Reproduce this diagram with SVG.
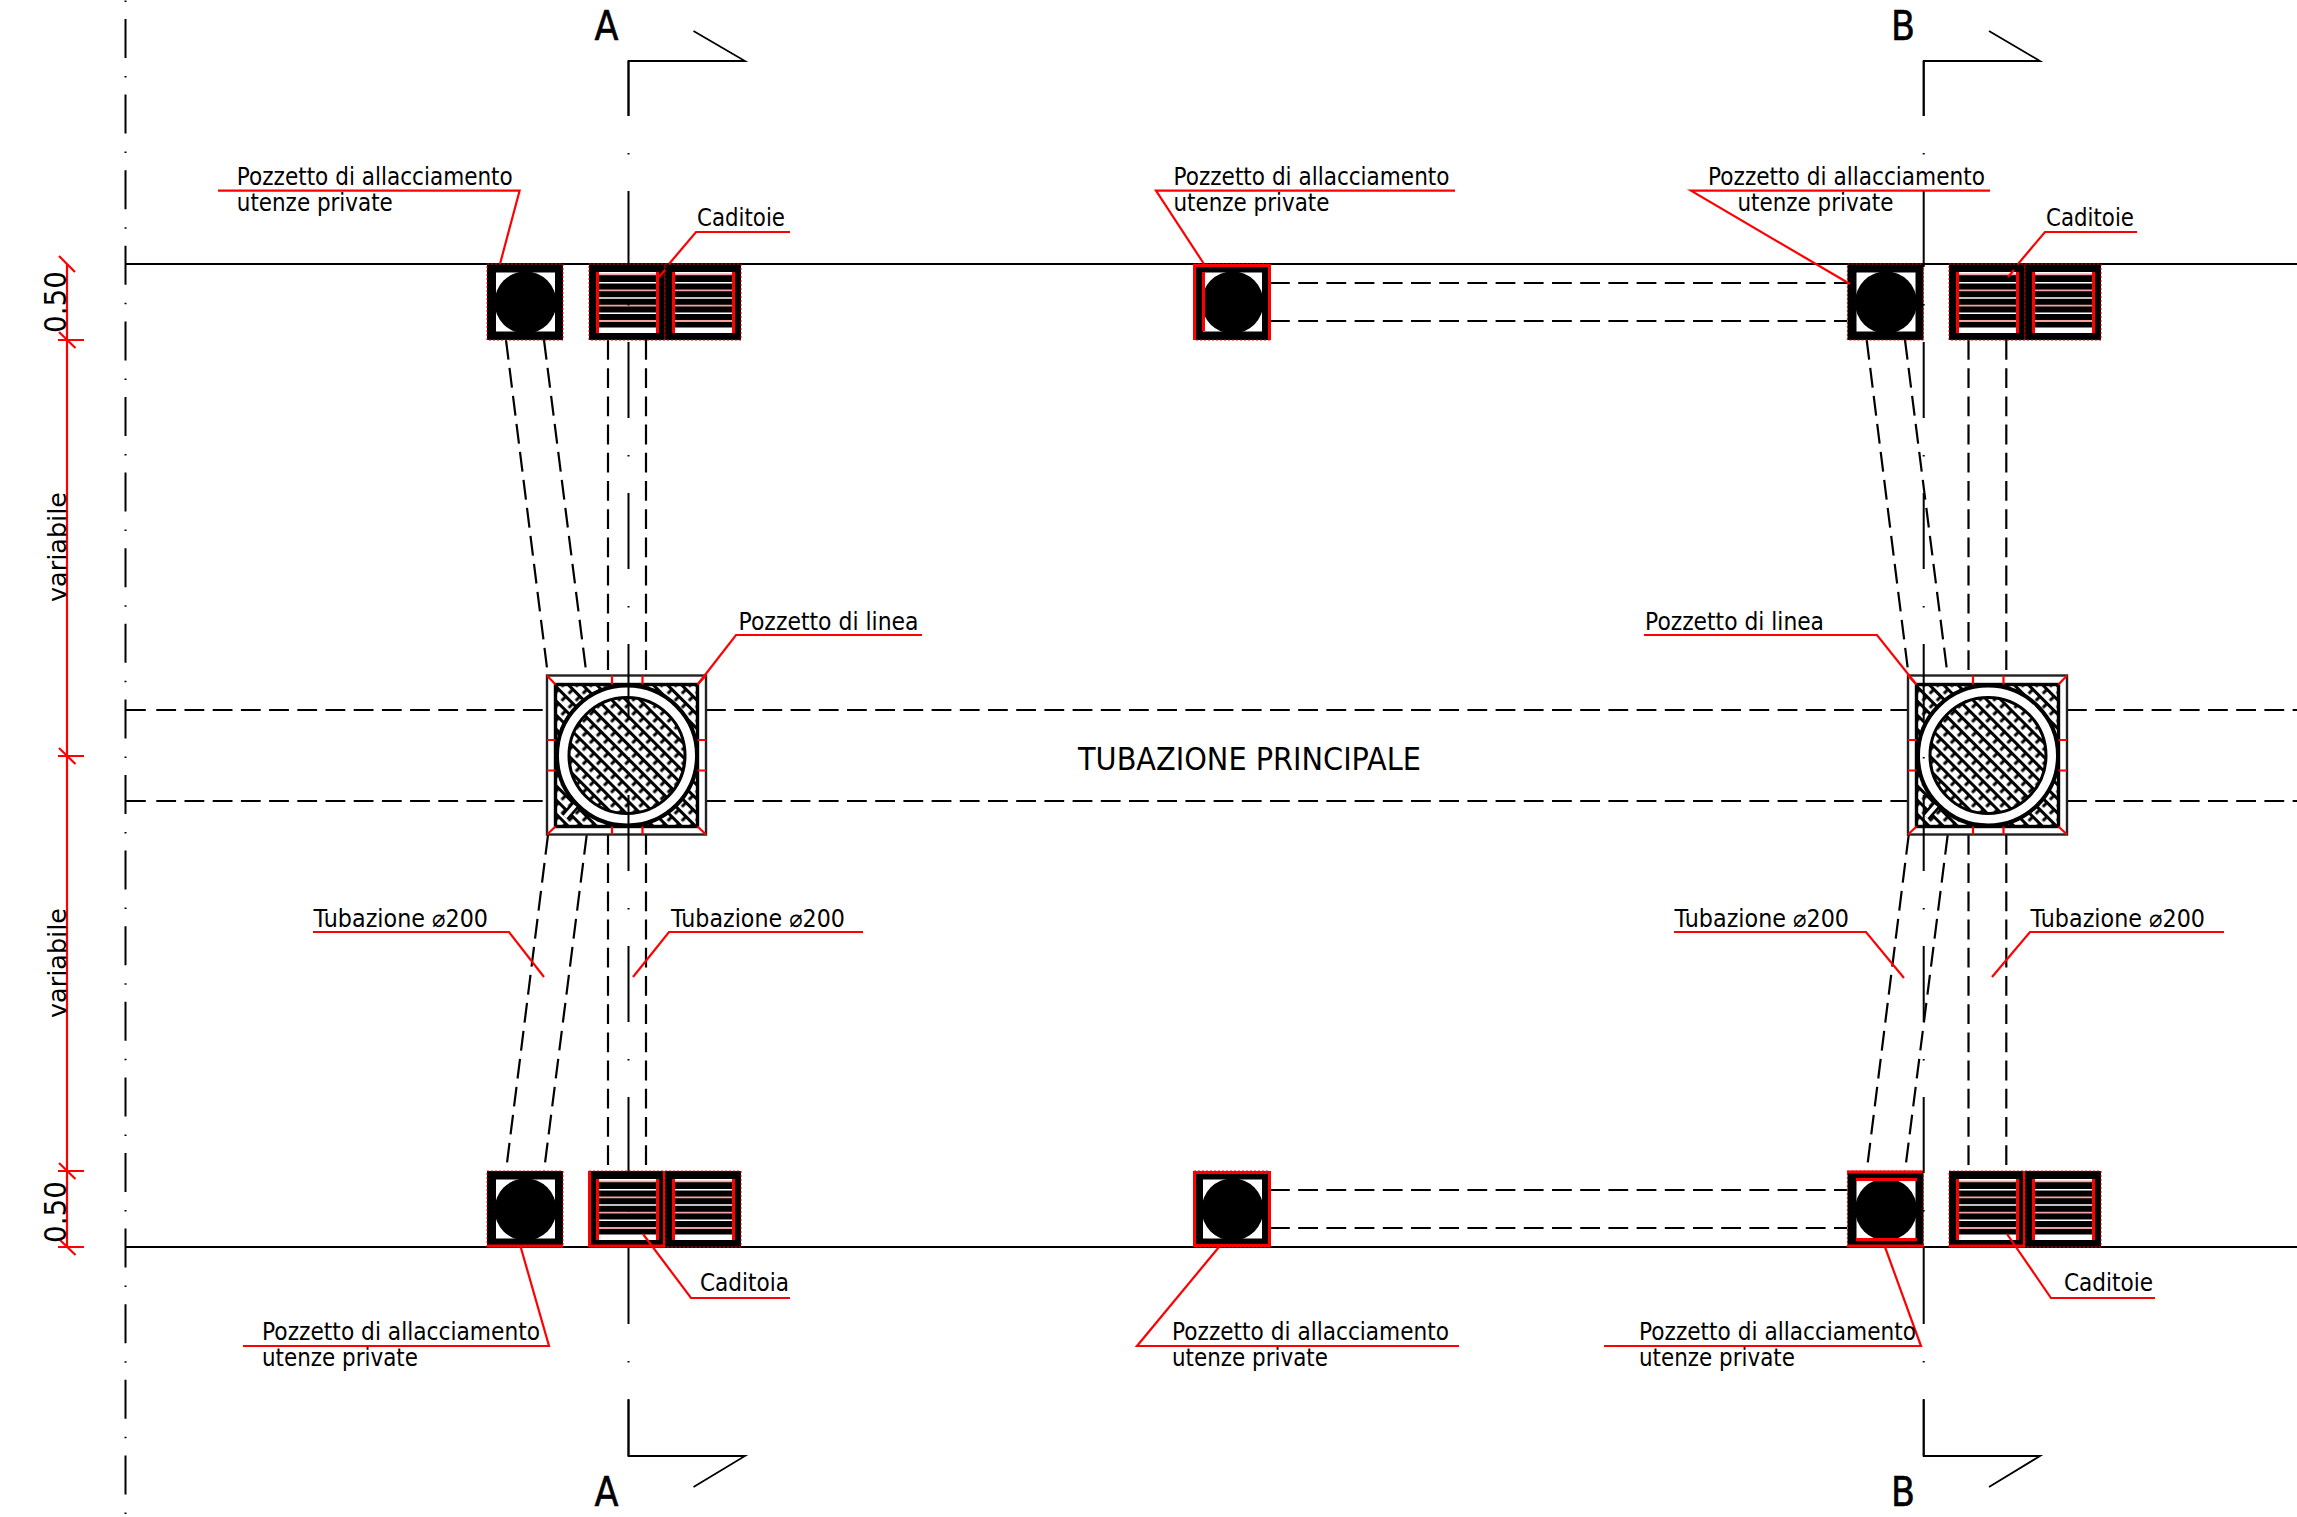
<svg xmlns="http://www.w3.org/2000/svg" width="2297" height="1517" viewBox="0 0 2297 1517">
<style>
text{font-family:"DejaVu Sans","Liberation Sans",sans-serif;fill:#000;font-size:24.5px}
.big{font-size:32px}.sec{font-size:41px;stroke:#000;stroke-width:.6}.dim{font-size:30px}.var{font-size:25px}
.ln{fill:none;stroke:#000;stroke-width:2}
.pipe{fill:none;stroke:#000;stroke-width:2.2;stroke-dasharray:19.8 8.4}
.axis1{fill:none;stroke:#000;stroke-width:2;stroke-dasharray:39 18 1.5 17.1}
.axis2{fill:none;stroke:#000;stroke-width:2;stroke-dasharray:76 37 1.5 36.5;stroke-dashoffset:21}
.sect{fill:none;stroke:#000;stroke-width:1.8}
.red{fill:none;stroke:#f00;stroke-width:2.2}
.red3{fill:none;stroke:#f00;stroke-width:3}
.frame{fill:#000;stroke:#f00;stroke-width:1;stroke-dasharray:2 2}
.hole{fill:#fff}
.sl{stroke:#fff;stroke-width:1.6}
.sp{stroke:#f3a0a0;stroke-width:1.8}
</style>
<defs>
<pattern id="hatch" width="10" height="10" patternUnits="userSpaceOnUse" patternTransform="rotate(45)">
<rect width="10" height="10" fill="#fff"/>
<path d="M0 1.500H10" stroke="#000" stroke-width="3"/>
<path d="M5 1.500V7.500" stroke="#000" stroke-width="3"/>
</pattern>
<g id="pz">
<rect class="frame" width="76" height="76"/>
<rect class="hole" x="9" y="8.500" width="59" height="59"/>
<circle cx="38.500" cy="38.500" r="31" fill="#000"/>
</g>
<g id="cd">
<rect class="frame" width="76" height="76"/>
<rect class="hole" x="8" y="8" width="61" height="61"/>
<rect x="9" y="11" width="59" height="52.500" fill="#000"/>
<path class="sl" d="M9 18.700H68M9 34H68M9 49.300H68"/>
<path class="sp" d="M9 10.300H68M9 26.300H68M9 41.700H68M9 57H68"/>
<path class="red3" d="M8.500 8V69M68.500 8V69"/>
</g>
<g id="big">
<rect x="-80" y="-80" width="159" height="159" fill="#fff" stroke="#222" stroke-width="2.400"/>
<rect x="-71.500" y="-71" width="142" height="142" fill="url(#hatch)" stroke="#000" stroke-width="3.400"/>
<circle r="70" fill="#fff" stroke="#000" stroke-width="4"/>
<circle r="58" fill="url(#hatch)" stroke="#000" stroke-width="3"/>
<path d="M-62 61.500L-52 50" stroke="#000" stroke-width="9"/>
<path d="M-62 61.500L-52 50" stroke="#fff" stroke-width="4"/>
</g>
<path id="bigred" class="red" d="M-80 -80L-71.500 -71M79 -80L70.500 -71M-80 79L-71.500 71M79 79L70.500 71M-15 -80V-71M15.500 -80V-71M-15 71V79M15.500 71V79M-80 -15.500H-71.500M-80 15H-71.500M70.500 -15.500H79M70.500 15H79"/>
</defs>

<rect width="2297" height="1517" fill="#fff"/>

<g id="connectors">
<g id="road-lines">
<path class="ln" d="M126 264H2297M126 1247H2297"/>
</g>
<g id="pipes">
<path class="pipe" d="M126 710H147.500M156.300 710H547M706 710H1908M2067 710H2297M126 801H147.500M156.300 801H547M706 801H1908M2067 801H2297"/>
<path class="pipe" d="M1270 283H1847M1270 321H1847M1270 1190H1847M1270 1228H1847"/>
<path class="pipe" d="M506 340L548 676M544 340L586.700 676M608 340V676M646 340V676"/>
<path class="pipe" d="M548 835L506 1171M586.700 835L544 1171M608 835V1171M646 835V1171"/>
<path class="pipe" d="M1866.700 340L1908.700 676M1905 340L1947.700 676M1968.500 340V676M2006.300 340V676"/>
<path class="pipe" d="M1908.700 835L1866.700 1171M1947.700 835L1905 1171M1968.500 835V1171M2006.300 835V1171"/>
</g>
</g>

<g id="pozzetto-top-1"><use href="#pz" x="487" y="264"/></g>
<g id="caditoia-top-1a"><use href="#cd" x="589" y="264"/></g>
<g id="caditoia-top-1b"><use href="#cd" x="665" y="264"/></g>
<g id="pozzetto-top-2"><use href="#pz" x="1194" y="264"/><path class="red3" d="M1194 265.500H1270M1194.500 264V340M1269.500 264V340M1203.500 272V331"/></g>
<g id="pozzetto-top-3"><use href="#pz" x="1847.500" y="264"/></g>
<g id="caditoia-top-3a"><use href="#cd" x="1949" y="264"/></g>
<g id="caditoia-top-3b"><use href="#cd" x="2025" y="264"/></g>

<g id="pozzetto-bottom-1"><use href="#pz" x="487" y="1171"/><path class="red3" d="M487 1246H563"/></g>
<g id="caditoia-bottom-1a"><use href="#cd" x="589" y="1171"/><path class="red3" d="M589.500 1171V1247M589 1246H665M664.500 1171V1247"/></g>
<g id="caditoia-bottom-1b"><use href="#cd" x="665" y="1171"/></g>
<g id="pozzetto-bottom-2"><use href="#pz" x="1194" y="1171"/><path class="red3" d="M1194 1172.500H1270M1194 1245.500H1270M1194.500 1171V1247M1269.500 1171V1247"/></g>
<g id="pozzetto-bottom-3"><use href="#pz" x="1847.500" y="1171"/><path class="red3" d="M1847 1172H1924M1847 1246H1924M1856 1179.500H1917M1856 1239.500H1917"/></g>
<g id="caditoia-bottom-3a"><use href="#cd" x="1949" y="1171"/><path class="red3" d="M1949 1246H2025M2024.500 1171V1247"/></g>
<g id="caditoia-bottom-3b"><use href="#cd" x="2025" y="1171"/></g>

<g id="pozzetto-linea-1"><use href="#big" x="627" y="755.500"/><use href="#bigred" x="627" y="755.500"/></g>
<g id="pozzetto-linea-2"><use href="#big" x="1988" y="755.500"/><use href="#bigred" x="1988" y="755.500"/></g>

<g id="axes">
<path class="axis1" d="M125.500 -56.600V1517"/>
<path class="axis2" d="M628.500 61V1456"/>
<path class="axis2" d="M1923.700 61V1456"/>
</g>

<g id="section-marks">
<path class="sect" d="M628.500 116V61H745L693.500 31"/>
<path class="sect" d="M1923.700 116V61H2040L1989 31"/>
<path class="sect" d="M628.500 1400V1456H745L693.500 1487"/>
<path class="sect" d="M1923.700 1400V1456H2040L1989 1487"/>
<text class="sec" x="594.500" y="40" textLength="24" lengthAdjust="spacingAndGlyphs">A</text>
<text class="sec" x="1891" y="40" textLength="24" lengthAdjust="spacingAndGlyphs">B</text>
<text class="sec" x="594.500" y="1506" textLength="24" lengthAdjust="spacingAndGlyphs">A</text>
<text class="sec" x="1891" y="1506" textLength="24" lengthAdjust="spacingAndGlyphs">B</text>
</g>

<g id="leaders">
<path class="red" d="M218 190.700H519.600L500 264"/>
<path class="red" d="M1455 190.700H1156L1204 264"/>
<path class="red" d="M1990 190.700H1691L1850 284"/>
<path class="red" d="M790 232H696L669 264M665 270L659 277"/>
<path class="red" d="M2137 232H2045L2018 264M2014 270L2008 277"/>
<path class="red" d="M922 635H736L698 684"/>
<path class="red" d="M1644 635H1877L1916 684"/>
<path class="red" d="M313 932H509L544 977"/>
<path class="red" d="M863 932H669L633 977"/>
<path class="red" d="M1674 932H1866L1904 978"/>
<path class="red" d="M2224 932H2030L1992 977"/>
<path class="red" d="M243 1346H549L520.700 1247"/>
<path class="red" d="M1459 1346H1137L1219 1247"/>
<path class="red" d="M1604 1346H1921L1885 1247"/>
<path class="red" d="M790 1298H691L643 1234"/>
<path class="red" d="M2155 1298H2051L2007 1234"/>
</g>

<g id="dimension-chain">
<path class="red" d="M67 264V1247"/>
<path class="red" d="M59 256L75 272M59 332L75.500 348M58 340H84M59 748L75.500 764M58 756H84M59 1163L75.500 1179M58 1171H84M59 1239L75.500 1255M58 1247H84"/>
<text class="dim" transform="translate(66 333) rotate(-90)" textLength="62" lengthAdjust="spacingAndGlyphs">0.50</text>
<text class="dim" transform="translate(66 1243) rotate(-90)" textLength="62" lengthAdjust="spacingAndGlyphs">0.50</text>
<text class="var" transform="translate(66 602) rotate(-90)" textLength="110" lengthAdjust="spacingAndGlyphs">variabile</text>
<text class="var" transform="translate(66 1018) rotate(-90)" textLength="110" lengthAdjust="spacingAndGlyphs">variabile</text>
</g>

<g id="labels">
<text x="236.800" y="185" textLength="276" lengthAdjust="spacingAndGlyphs">Pozzetto di allacciamento</text>
<text x="236.800" y="211" textLength="156" lengthAdjust="spacingAndGlyphs">utenze private</text>
<text x="1173.500" y="185" textLength="276" lengthAdjust="spacingAndGlyphs">Pozzetto di allacciamento</text>
<text x="1173.500" y="211" textLength="156" lengthAdjust="spacingAndGlyphs">utenze private</text>
<text x="1708" y="185" textLength="277" lengthAdjust="spacingAndGlyphs">Pozzetto di allacciamento</text>
<text x="1737.500" y="211" textLength="156" lengthAdjust="spacingAndGlyphs">utenze private</text>
<text x="697" y="226" textLength="88" lengthAdjust="spacingAndGlyphs">Caditoie</text>
<text x="2046" y="226" textLength="88" lengthAdjust="spacingAndGlyphs">Caditoie</text>
<text x="738.500" y="630" textLength="180" lengthAdjust="spacingAndGlyphs">Pozzetto di linea</text>
<text x="1645" y="630" textLength="179" lengthAdjust="spacingAndGlyphs">Pozzetto di linea</text>
<text class="big" x="1078" y="770" textLength="343" lengthAdjust="spacingAndGlyphs">TUBAZIONE PRINCIPALE</text>
<text x="313.500" y="927" textLength="174.500" lengthAdjust="spacingAndGlyphs">Tubazione ⌀200</text>
<text x="671" y="927" textLength="174" lengthAdjust="spacingAndGlyphs">Tubazione ⌀200</text>
<text x="1674.500" y="927" textLength="174.500" lengthAdjust="spacingAndGlyphs">Tubazione ⌀200</text>
<text x="2030.500" y="927" textLength="174.500" lengthAdjust="spacingAndGlyphs">Tubazione ⌀200</text>
<text x="262" y="1340" textLength="278" lengthAdjust="spacingAndGlyphs">Pozzetto di allacciamento</text>
<text x="262" y="1366" textLength="156" lengthAdjust="spacingAndGlyphs">utenze private</text>
<text x="1172" y="1340" textLength="277" lengthAdjust="spacingAndGlyphs">Pozzetto di allacciamento</text>
<text x="1172" y="1366" textLength="156" lengthAdjust="spacingAndGlyphs">utenze private</text>
<text x="1639" y="1340" textLength="277" lengthAdjust="spacingAndGlyphs">Pozzetto di allacciamento</text>
<text x="1639" y="1366" textLength="156" lengthAdjust="spacingAndGlyphs">utenze private</text>
<text x="700" y="1291" textLength="89" lengthAdjust="spacingAndGlyphs">Caditoia</text>
<text x="2064" y="1291" textLength="89" lengthAdjust="spacingAndGlyphs">Caditoie</text>
</g>
</svg>
